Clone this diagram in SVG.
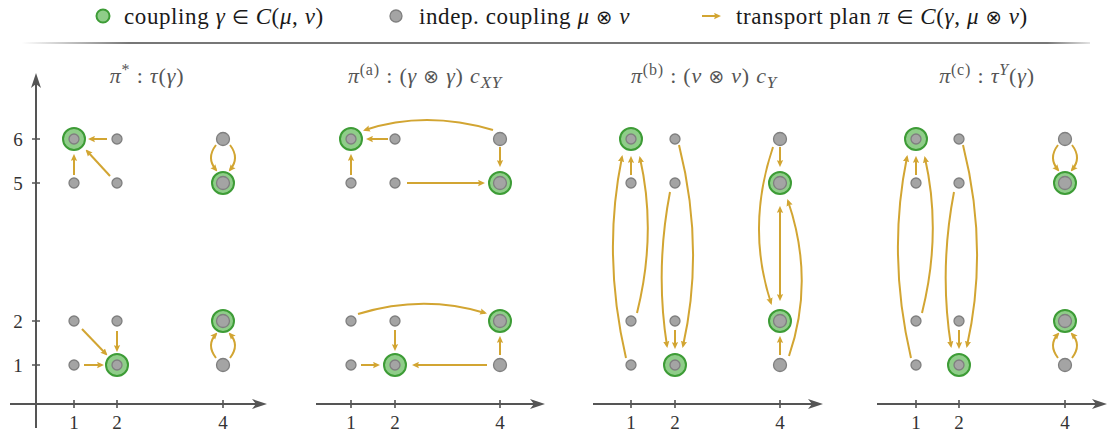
<svg xmlns="http://www.w3.org/2000/svg" width="1111" height="436" viewBox="0 0 1111 436">
<style>
text{font-family:"Liberation Serif","DejaVu Serif",serif;}
.leg{font-size:23px;fill:#1a1a1a;letter-spacing:0.6px;}
.ttl{font-size:22px;fill:#555;text-anchor:middle;letter-spacing:0.8px;}
.tk{font-size:19px;fill:#333;text-anchor:middle;}
.m{font-style:italic;}
.op{font-family:"DejaVu Sans",sans-serif;font-size:0.85em;}
.ax{stroke:#555;stroke-width:2;fill:none;}
.tick{stroke:#555;stroke-width:1.6;}
.g{fill:#a4a4a4;stroke:#7f7f7f;stroke-width:1.3;}
.gr{fill:#8fcd89;stroke:#3d9c36;stroke-width:2;}
.tp{stroke:#d2a532;stroke-width:2;fill:none;marker-end:url(#ah);}
.dbl{marker-start:url(#ah);}
</style>
<defs>
<marker id="ah" viewBox="0 0 10 10" refX="7" refY="5" markerWidth="7" markerHeight="7" orient="auto-start-reverse" markerUnits="userSpaceOnUse"><path d="M0,0.5 L10,5 L0,9.5 L1.5,5 z" fill="#d2a532"/></marker>
<marker id="axh" viewBox="0 0 15 10" refX="4" refY="5" markerWidth="15" markerHeight="10" orient="auto" markerUnits="userSpaceOnUse"><path d="M0,0 L15,5 L0,10 L4,5 z" fill="#555"/></marker>
<linearGradient id="sep" x1="0" x2="1" y1="0" y2="0"><stop offset="0" stop-color="#777" stop-opacity="0"/><stop offset="0.1" stop-color="#777" stop-opacity="1"/><stop offset="0.96" stop-color="#777" stop-opacity="1"/><stop offset="1" stop-color="#777" stop-opacity="0.2"/></linearGradient>
</defs>

<g id="legend">
<circle cx="103" cy="16" r="6.5" class="gr" stroke-width="1.6"/>
<text x="124" y="24" class="leg">coupling <tspan class="m">γ</tspan> <tspan class="op">∈</tspan> <tspan class="m">C</tspan>(<tspan class="m">μ</tspan>, <tspan class="m">ν</tspan>)</text>
<circle cx="396" cy="16" r="6" class="g"/>
<text x="419" y="24" class="leg">indep. coupling <tspan class="m">μ</tspan> <tspan class="op">⊗</tspan> <tspan class="m">ν</tspan></text>
<path d="M702 16 L719 16" class="tp"/>
<text x="736" y="24" class="leg">transport plan <tspan class="m">π</tspan> <tspan class="op">∈</tspan> <tspan class="m">C</tspan>(<tspan class="m">γ</tspan>, <tspan class="m">μ</tspan> <tspan class="op">⊗</tspan> <tspan class="m">ν</tspan>)</text>
<rect x="22" y="42" width="1068" height="2" fill="url(#sep)"/>
</g>

<g id="axes">
<path d="M36 428 L36 84" class="ax" marker-end="url(#axh)"/>
<path d="M10 404 L256 404" class="ax" marker-end="url(#axh)"/>
<path d="M316 404 L534 404" class="ax" marker-end="url(#axh)"/>
<path d="M593 404 L812 404" class="ax" marker-end="url(#axh)"/>
<path d="M877 404 L1096 404" class="ax" marker-end="url(#axh)"/>
<path class="tick" d="M32 139H40M32 183H40M32 321H40M32 365H40
M74 400V408M117 400V408M223 400V408
M351 400V408M395 400V408M500 400V408
M631 400V408M675 400V408M780 400V408
M916 400V408M959 400V408M1065 400V408"/>
<text x="18" y="146" class="tk">6</text>
<text x="18" y="190" class="tk">5</text>
<text x="18" y="328" class="tk">2</text>
<text x="18" y="372" class="tk">1</text>
<text x="74" y="429" class="tk">1</text><text x="117" y="429" class="tk">2</text><text x="223" y="429" class="tk">4</text>
<text x="351" y="429" class="tk">1</text><text x="395" y="429" class="tk">2</text><text x="500" y="429" class="tk">4</text>
<text x="631" y="429" class="tk">1</text><text x="675" y="429" class="tk">2</text><text x="780" y="429" class="tk">4</text>
<text x="916" y="429" class="tk">1</text><text x="959" y="429" class="tk">2</text><text x="1065" y="429" class="tk">4</text>
</g>

<g id="titles">
<text x="147" y="83" class="ttl"><tspan class="m">π</tspan><tspan dy="-8" font-size="16">*</tspan><tspan dy="8"> : </tspan><tspan class="m">τ</tspan>(<tspan class="m">γ</tspan>)</text>
<text x="425" y="83" class="ttl"><tspan class="m">π</tspan><tspan dy="-8" font-size="16">(a)</tspan><tspan dy="8"> : (</tspan><tspan class="m">γ</tspan> <tspan class="op">⊗</tspan> <tspan class="m">γ</tspan>) <tspan class="m">c</tspan><tspan dy="5" font-size="17" class="m">XY</tspan></text>
<text x="704" y="83" class="ttl"><tspan class="m">π</tspan><tspan dy="-8" font-size="16">(b)</tspan><tspan dy="8"> : (</tspan><tspan class="m">ν</tspan> <tspan class="op">⊗</tspan> <tspan class="m">ν</tspan>) <tspan class="m">c</tspan><tspan dy="5" font-size="17" class="m">Y</tspan></text>
<text x="987" y="83" class="ttl"><tspan class="m">π</tspan><tspan dy="-8" font-size="16">(c)</tspan><tspan dy="8"> : </tspan><tspan class="m">τ</tspan><tspan dy="-8" font-size="16" class="m">Y</tspan><tspan dy="8">(</tspan><tspan class="m">γ</tspan>)</text>
</g>

<g id="connectors">
<path class="tp" d="M107 139 L90 139"/>
<path class="tp" d="M74 175 L74 156"/>
<path class="tp" d="M110 176 L87 151"/>
<path class="tp" d="M216 145 Q206 158 216 170"/>
<path class="tp" d="M230 145 Q240 158 230 170"/>
<path class="tp" d="M82 329 L106 354"/>
<path class="tp" d="M117 331 L117 350"/>
<path class="tp" d="M84 365 L102 365"/>
<path class="tp" d="M216 358 Q206 345 216 334"/>
<path class="tp" d="M230 358 Q240 345 230 334"/>

<path class="tp" d="M493 130 Q425 110 365 130"/>
<path class="tp" d="M388 139 L368 139"/>
<path class="tp" d="M351 175 L351 156"/>
<path class="tp" d="M500 147 L500 165"/>
<path class="tp" d="M407 183 L483 183"/>
<path class="tp" d="M358 314 Q423 294 485 313"/>
<path class="tp" d="M395 330 L395 349"/>
<path class="tp" d="M361 365 L378 365"/>
<path class="tp" d="M487 365 L414 365"/>
<path class="tp" d="M500 355 L500 338"/>

<path class="tp" d="M626 358 Q602 255 622 157"/>
<path class="tp" d="M631 175 L631 158"/>
<path class="tp" d="M637 313 Q657 233 640 158"/>
<path class="tp" d="M670 192 Q655 270 667 346"/>
<path class="tp" d="M675 330 L675 347"/>
<path class="tp" d="M679 145 Q705 248 683 346"/>
<path class="tp" d="M780 147 L780 165"/>
<path class="tp" d="M773 147 Q746 227 771 303"/>
<path class="tp dbl" d="M780 208 L780 299"/>
<path class="tp" d="M780 355 L780 338"/>
<path class="tp" d="M789 356 Q815 280 788 201"/>

<path class="tp" d="M911 358 Q887 255 907 157"/>
<path class="tp" d="M916 175 L916 158"/>
<path class="tp" d="M922 313 Q942 233 925 158"/>
<path class="tp" d="M954 192 Q939 270 951 346"/>
<path class="tp" d="M959 330 L959 347"/>
<path class="tp" d="M963 145 Q989 248 967 346"/>
<path class="tp" d="M1058 145 Q1048 158 1058 170"/>
<path class="tp" d="M1072 145 Q1082 158 1072 170"/>
<path class="tp" d="M1058 358 Q1048 345 1058 334"/>
<path class="tp" d="M1072 358 Q1082 345 1072 334"/>
</g>

<g id="p1-nodes">
<g id="p1-1-6"><circle cx="74" cy="139" r="11" class="gr"/><circle cx="74" cy="139" r="5" class="g"/></g>
<g id="p1-2-6"><circle cx="117" cy="139" r="5" class="g"/></g>
<g id="p1-1-5"><circle cx="74" cy="183" r="5" class="g"/></g>
<g id="p1-2-5"><circle cx="117" cy="183" r="5" class="g"/></g>
<g id="p1-4-6"><circle cx="223" cy="139" r="6.5" class="g"/></g>
<g id="p1-4-5"><circle cx="223" cy="183" r="11" class="gr"/><circle cx="223" cy="183" r="6.5" class="g"/></g>
<g id="p1-1-2"><circle cx="74" cy="321" r="5" class="g"/></g>
<g id="p1-2-2"><circle cx="117" cy="321" r="5" class="g"/></g>
<g id="p1-1-1"><circle cx="74" cy="365" r="5" class="g"/></g>
<g id="p1-2-1"><circle cx="117" cy="365" r="11" class="gr"/><circle cx="117" cy="365" r="5" class="g"/></g>
<g id="p1-4-2"><circle cx="223" cy="321" r="11" class="gr"/><circle cx="223" cy="321" r="6.5" class="g"/></g>
<g id="p1-4-1"><circle cx="223" cy="365" r="6.5" class="g"/></g>
</g>

<g id="p2-nodes">
<g id="p2-1-6"><circle cx="351" cy="139" r="11" class="gr"/><circle cx="351" cy="139" r="5" class="g"/></g>
<g id="p2-2-6"><circle cx="395" cy="139" r="5" class="g"/></g>
<g id="p2-1-5"><circle cx="351" cy="183" r="5" class="g"/></g>
<g id="p2-2-5"><circle cx="395" cy="183" r="5" class="g"/></g>
<g id="p2-4-6"><circle cx="500" cy="139" r="6.5" class="g"/></g>
<g id="p2-4-5"><circle cx="500" cy="183" r="11" class="gr"/><circle cx="500" cy="183" r="6.5" class="g"/></g>
<g id="p2-1-2"><circle cx="351" cy="321" r="5" class="g"/></g>
<g id="p2-2-2"><circle cx="395" cy="321" r="5" class="g"/></g>
<g id="p2-1-1"><circle cx="351" cy="365" r="5" class="g"/></g>
<g id="p2-2-1"><circle cx="395" cy="365" r="11" class="gr"/><circle cx="395" cy="365" r="5" class="g"/></g>
<g id="p2-4-2"><circle cx="500" cy="321" r="11" class="gr"/><circle cx="500" cy="321" r="6.5" class="g"/></g>
<g id="p2-4-1"><circle cx="500" cy="365" r="6.5" class="g"/></g>
</g>

<g id="p3-nodes">
<g id="p3-1-6"><circle cx="631" cy="139" r="11" class="gr"/><circle cx="631" cy="139" r="5" class="g"/></g>
<g id="p3-2-6"><circle cx="675" cy="139" r="5" class="g"/></g>
<g id="p3-1-5"><circle cx="631" cy="183" r="5" class="g"/></g>
<g id="p3-2-5"><circle cx="675" cy="183" r="5" class="g"/></g>
<g id="p3-4-6"><circle cx="780" cy="139" r="6.5" class="g"/></g>
<g id="p3-4-5"><circle cx="780" cy="183" r="11" class="gr"/><circle cx="780" cy="183" r="6.5" class="g"/></g>
<g id="p3-1-2"><circle cx="631" cy="321" r="5" class="g"/></g>
<g id="p3-2-2"><circle cx="675" cy="321" r="5" class="g"/></g>
<g id="p3-1-1"><circle cx="631" cy="365" r="5" class="g"/></g>
<g id="p3-2-1"><circle cx="675" cy="365" r="11" class="gr"/><circle cx="675" cy="365" r="5" class="g"/></g>
<g id="p3-4-2"><circle cx="780" cy="321" r="11" class="gr"/><circle cx="780" cy="321" r="6.5" class="g"/></g>
<g id="p3-4-1"><circle cx="780" cy="365" r="6.5" class="g"/></g>
</g>

<g id="p4-nodes">
<g id="p4-1-6"><circle cx="916" cy="139" r="11" class="gr"/><circle cx="916" cy="139" r="5" class="g"/></g>
<g id="p4-2-6"><circle cx="959" cy="139" r="5" class="g"/></g>
<g id="p4-1-5"><circle cx="916" cy="183" r="5" class="g"/></g>
<g id="p4-2-5"><circle cx="959" cy="183" r="5" class="g"/></g>
<g id="p4-4-6"><circle cx="1065" cy="139" r="6.5" class="g"/></g>
<g id="p4-4-5"><circle cx="1065" cy="183" r="11" class="gr"/><circle cx="1065" cy="183" r="6.5" class="g"/></g>
<g id="p4-1-2"><circle cx="916" cy="321" r="5" class="g"/></g>
<g id="p4-2-2"><circle cx="959" cy="321" r="5" class="g"/></g>
<g id="p4-1-1"><circle cx="916" cy="365" r="5" class="g"/></g>
<g id="p4-2-1"><circle cx="959" cy="365" r="11" class="gr"/><circle cx="959" cy="365" r="5" class="g"/></g>
<g id="p4-4-2"><circle cx="1065" cy="321" r="11" class="gr"/><circle cx="1065" cy="321" r="6.5" class="g"/></g>
<g id="p4-4-1"><circle cx="1065" cy="365" r="6.5" class="g"/></g>
</g>
</svg>
